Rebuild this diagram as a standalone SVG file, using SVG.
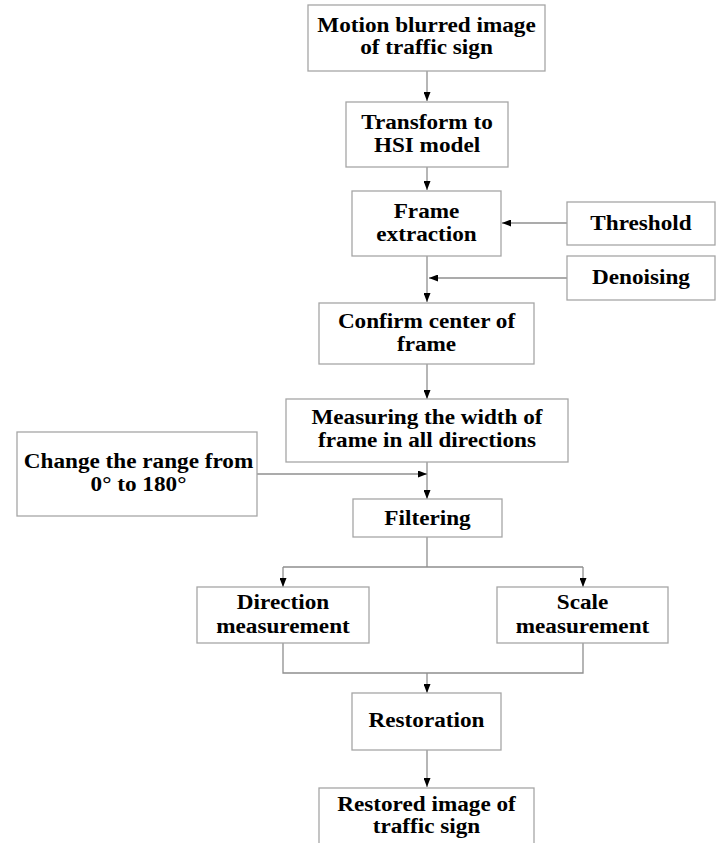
<svg xmlns="http://www.w3.org/2000/svg" width="721" height="843" viewBox="0 0 721 843">
<style>
.box{fill:#fff;stroke:#a6a6a6;stroke-width:1.3}
.ln{fill:none;stroke:#8f8f8f;stroke-width:1.3}
.t{font-family:"Liberation Serif","Times New Roman",serif;font-weight:bold;font-size:20px;fill:#000;text-anchor:middle}
</style>
<defs>
<marker id="ah" markerWidth="9" markerHeight="7" refX="9" refY="3.5" orient="auto" markerUnits="userSpaceOnUse">
<path d="M0,0 L9,3.5 L0,7 z" fill="#000"/>
</marker>
</defs>
<rect width="721" height="843" fill="#fff"/>
<g id="connectors">
<path class="ln" d="M427,71 V101" marker-end="url(#ah)"/>
<path class="ln" d="M427,167 V190" marker-end="url(#ah)"/>
<path class="ln" d="M567,223 H502" marker-end="url(#ah)"/>
<path class="ln" d="M427,256 V302" marker-end="url(#ah)"/>
<path class="ln" d="M567,278 H429" marker-end="url(#ah)"/>
<path class="ln" d="M427,364 V399" marker-end="url(#ah)"/>
<path class="ln" d="M427,462 V499" marker-end="url(#ah)"/>
<path class="ln" d="M257,474 H427" marker-end="url(#ah)"/>
<path class="ln" d="M427,537 V567 M283,567 H583"/>
<path class="ln" d="M283,567 V587" marker-end="url(#ah)"/>
<path class="ln" d="M583,567 V587" marker-end="url(#ah)"/>
<path class="ln" d="M283,643 V673 H583 V643"/>
<path class="ln" d="M427,673 V693" marker-end="url(#ah)"/>
<path class="ln" d="M427,750 V787" marker-end="url(#ah)"/>
</g>
<g id="n1">
<rect class="box" x="308" y="5" width="237" height="66"/>
<g transform="translate(426.5 0) scale(1.16 1)"><text class="t" x="0" y="32">Motion blurred image</text><text class="t" x="0" y="54.5">of traffic sign</text></g>
</g>
<g id="n2">
<rect class="box" x="346" y="102" width="162" height="65"/>
<g transform="translate(427 0) scale(1.16 1)"><text class="t" x="0" y="129.5">Transform to</text><text class="t" x="0" y="152">HSI model</text></g>
</g>
<g id="n3">
<rect class="box" x="352" y="191" width="149" height="65"/>
<g transform="translate(426.5 0) scale(1.16 1)"><text class="t" x="0" y="218.5">Frame</text><text class="t" x="0" y="241.5">extraction</text></g>
</g>
<g id="threshold">
<rect class="box" x="567" y="202" width="148" height="43"/>
<g transform="translate(641 0) scale(1.16 1)"><text class="t" x="0" y="230">Threshold</text></g>
</g>
<g id="denoising">
<rect class="box" x="567" y="256" width="148" height="44"/>
<g transform="translate(641 0) scale(1.16 1)"><text class="t" x="0" y="284.5">Denoising</text></g>
</g>
<g id="n4">
<rect class="box" x="319" y="303" width="215" height="61"/>
<g transform="translate(426.5 0) scale(1.16 1)"><text class="t" x="0" y="328">Confirm center of</text><text class="t" x="0" y="351">frame</text></g>
</g>
<g id="n5">
<rect class="box" x="286" y="399" width="282" height="63"/>
<g transform="translate(427 0) scale(1.16 1)"><text class="t" x="0" y="424.5">Measuring the width of</text><text class="t" x="0" y="447">frame in all directions</text></g>
</g>
<g id="range">
<rect class="box" x="17" y="432" width="240" height="84"/>
<g transform="translate(138.5 0) scale(1.16 1)"><text class="t" x="0" y="468.5">Change the range from</text><text class="t" x="0" y="491">0° to 180°</text></g>
</g>
<g id="n6">
<rect class="box" x="353" y="499" width="149" height="38"/>
<g transform="translate(427.5 0) scale(1.16 1)"><text class="t" x="0" y="525.5">Filtering</text></g>
</g>
<g id="direction">
<rect class="box" x="197" y="587" width="172" height="56"/>
<g transform="translate(283 0) scale(1.16 1)"><text class="t" x="0" y="609.5">Direction</text><text class="t" x="0" y="633.5">measurement</text></g>
</g>
<g id="scale">
<rect class="box" x="497" y="587" width="171" height="56"/>
<g transform="translate(582.5 0) scale(1.16 1)"><text class="t" x="0" y="609.5">Scale</text><text class="t" x="0" y="633.5">measurement</text></g>
</g>
<g id="n7">
<rect class="box" x="352" y="693" width="149" height="57"/>
<g transform="translate(426.5 0) scale(1.16 1)"><text class="t" x="0" y="727">Restoration</text></g>
</g>
<g id="n8">
<rect class="box" x="319" y="788" width="215" height="70"/>
<g transform="translate(426.5 0) scale(1.16 1)"><text class="t" x="0" y="811">Restored image of</text><text class="t" x="0" y="833.5">traffic sign</text></g>
</g>
</svg>
